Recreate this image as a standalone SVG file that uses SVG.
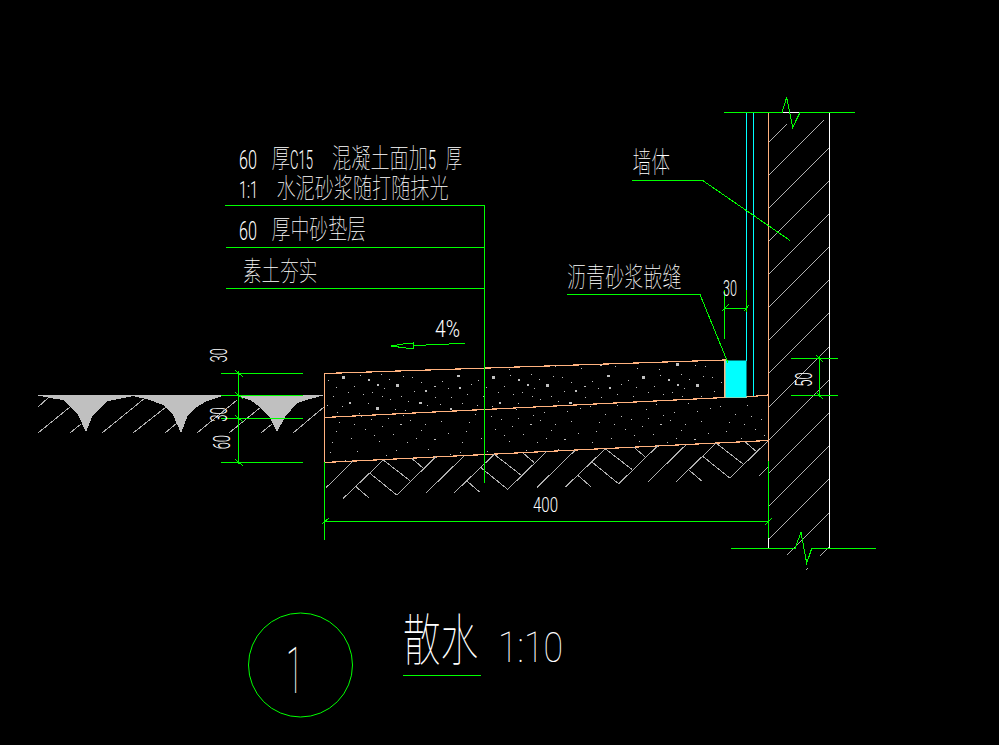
<svg xmlns="http://www.w3.org/2000/svg" xmlns:xlink="http://www.w3.org/1999/xlink" width="999" height="745" viewBox="0 0 999 745">
<style>
.g{stroke:#00ff00;stroke-width:1;fill:none}
.o{stroke:#ffb27f;stroke-width:1.2;fill:none}
.c{stroke:#00ffff;stroke-width:1;fill:none}
.w{stroke:#ffffff;stroke-width:1;fill:none}
.h{stroke:#b0b0b0;stroke-width:1;fill:none}
line,polyline,path,polygon{shape-rendering:crispEdges}
text{fill:#ffffff;font-weight:100}
.z{font-family:"Noto Sans CJK SC","Noto Sans CJK JP",sans-serif;font-size:27px}
.n{font-family:"Roboto","Liberation Sans",sans-serif;font-weight:300}
</style>
<defs>
<pattern id="dots1" width="150" height="44" patternUnits="userSpaceOnUse" patternTransform="translate(324 372)">
<path fill="#c0c0c0" d="M4 8h1v1h-1zM18 4h3v3h-3zM30 14h1v1h-1zM44 7h2v2h-2zM57 2h1v1h-1zM72 12h3v3h-3zM88 5h1v1h-1zM101 18h2v2h-2zM118 9h1v1h-1zM133 3h3v2h-3zM9 24h1v1h-1zM25 30h2v2h-2zM39 22h1v1h-1zM52 35h3v3h-3zM66 27h1v1h-1zM81 38h1v1h-1zM95 30h3v2h-3zM111 25h1v1h-1zM126 36h2v2h-2zM143 22h1v1h-1zM13 40h1v1h-1zM35 41h1v1h-1zM60 16h1v1h-1zM77 24h1v1h-1zM107 40h1v1h-1zM147 12h1v1h-1zM124 16h1v1h-1zM48 20h1v1h-1zM90 19h1v1h-1zM138 31h1v1h-1zM12 15h1v1h-1zM24 20h1v1h-1zM36 3h1v1h-1zM53 12h2v2h-2zM65 7h1v1h-1zM79 4h1v1h-1zM84 29h1v1h-1zM97 10h1v1h-1zM110 14h2v1h-2zM127 25h1v1h-1zM141 38h1v1h-1zM18 34h1v1h-1zM44 31h1v1h-1zM71 37h1v1h-1zM103 33h1v1h-1zM116 32h1v1h-1zM3 33h1v1h-1zM58 24h1v1h-1zM135 15h2v2h-2z"/>
</pattern>
<pattern id="dots2" width="130" height="46" patternUnits="userSpaceOnUse" patternTransform="translate(324 400)">
<path fill="#c0c0c0" d="M6 6h1v1h-1zM21 14h1v1h-1zM33 5h1v1h-1zM47 19h1v1h-1zM62 9h1v1h-1zM76 24h2v1h-2zM90 12h1v1h-1zM104 3h1v1h-1zM117 21h1v1h-1zM12 31h1v1h-1zM27 38h1v1h-1zM41 29h1v1h-1zM55 41h1v1h-1zM69 34h1v1h-1zM83 42h1v1h-1zM97 30h1v1h-1zM110 39h2v1h-2zM124 33h1v1h-1zM15 22h1v1h-1zM37 16h1v1h-1zM58 26h1v1h-1zM86 20h1v1h-1zM126 8h1v1h-1zM72 4h1v1h-1zM8 42h1v1h-1zM30 24h1v1h-1zM50 35h1v1h-1zM79 15h1v1h-1zM101 24h1v1h-1zM113 11h1v1h-1zM92 38h1v1h-1zM64 18h1v1h-1z"/>
</pattern>
<g id="herring" class="h">
<line x1="343.3" y1="498.3" x2="383.3" y2="460"/>
<line x1="356" y1="486.7" x2="368.7" y2="497.7"/>
<line x1="370" y1="473.3" x2="396.7" y2="495"/>
<line x1="383.3" y1="460" x2="410" y2="480.7"/>
<line x1="396.7" y1="495" x2="436" y2="456.7"/>
<line x1="411.7" y1="458.3" x2="423.3" y2="468.3"/>
<line x1="425.7" y1="493.3" x2="464" y2="456"/>
</g>
</defs>
<rect width="999" height="745" fill="#000000"/>

<g id="ground">
<path fill="#c0c0c0" d="M35 395H325L310 399 297 403 285 417 277 432 270 418 260 407 250 400 237 396H222L207 401 197 407 188 415 181 433 173 415 163 405 150 400 133 396 108 401 100 408 92 417 86 432 78 415 70 406 63 400 50 398Z"/>
<g class="h">
<line x1="38" y1="433" x2="70" y2="407"/><line x1="38" y1="407" x2="48" y2="398"/><line x1="70" y1="433" x2="81" y2="424"/>
<line x1="102" y1="433" x2="145" y2="398"/><line x1="133" y1="433" x2="166" y2="407"/><line x1="165" y1="433" x2="177" y2="423"/>
<line x1="197" y1="433" x2="237" y2="400"/><line x1="229" y1="433" x2="261" y2="407"/><line x1="261" y1="433" x2="272" y2="424"/>
<line x1="293" y1="433" x2="324" y2="407"/>
</g>
</g>

<g id="slab">
<polygon points="325,374 725,360 725,398 325,417" fill="url(#dots1)"/>
<polygon points="325,418 725,398 768,395 768,440 325,462" fill="url(#dots2)"/>
<polyline class="o" points="324.5,462.5 324.5,373.5 725,360 725,397.5"/>
<polyline class="o" points="324.5,417.5 725,397.5 746,397 768,395"/>
<polyline class="o" points="324.5,462.5 768,440.5"/>
<rect x="725.5" y="360.5" width="21" height="37" fill="#00ffff"/>
</g>

<g id="soil">
<line class="h" x1="326" y1="487.7" x2="353.3" y2="460.7"/>
<use href="#herring"/>
<use href="#herring" transform="translate(111 -5.6)"/>
<use href="#herring" transform="translate(222 -11.2)"/>
<g class="h">
<line x1="676.3" y1="481.5" x2="716.3" y2="443"/>
<line x1="689" y1="470" x2="701.7" y2="481"/>
<line x1="703" y1="456.5" x2="729.7" y2="478"/>
<line x1="716" y1="443" x2="743" y2="464"/>
<line x1="729.7" y1="478" x2="768" y2="441"/>
<line x1="744.7" y1="441.5" x2="756.3" y2="451.5"/>
<line x1="758.7" y1="476.5" x2="768" y2="467"/>
</g>
</g>

<g id="wall">
<g class="h">
<line x1="769" y1="142" x2="787" y2="124"/>
<line x1="769" y1="175" x2="824" y2="120"/>
<line x1="769" y1="208" x2="829" y2="148"/>
<line x1="769" y1="241" x2="829" y2="181"/>
<line x1="769" y1="274" x2="829" y2="214"/>
<line x1="769" y1="307" x2="829" y2="247"/>
<line x1="769" y1="340" x2="829" y2="280"/>
<line x1="769" y1="373" x2="829" y2="313"/>
<line x1="769" y1="407" x2="829" y2="347"/>
<line x1="769" y1="440" x2="829" y2="380"/>
<line x1="769" y1="473" x2="829" y2="413"/>
<line x1="769" y1="506" x2="829" y2="446"/>
<line x1="769" y1="539" x2="829" y2="479"/>
<line x1="787" y1="555" x2="829" y2="513"/>
<line x1="820" y1="556" x2="829" y2="547"/>
<line x1="806" y1="570" x2="808" y2="568"/>
</g>
<line class="c" x1="746.5" y1="112" x2="746.5" y2="361"/>
<line class="c" x1="753.5" y1="112" x2="753.5" y2="396"/>
<line class="o" x1="768.5" y1="112" x2="768.5" y2="461"/>
<line class="w" x1="829.5" y1="112" x2="829.5" y2="548"/>
<line class="w" x1="768.5" y1="538" x2="768.5" y2="548"/>
<line class="w" x1="782" y1="112.5" x2="800" y2="112.5"/>
</g>

<g id="connectors">
<g class="g">
<polyline points="724,112.5 782,112.5 786.7,97.3 792.7,127.3 800,112.5 855,112.5"/>
<polyline points="731,548.5 795,548.5 801,532.3 806.7,563.3 811.7,548.5 876,548.5"/>
<line x1="768.5" y1="461" x2="768.5" y2="538"/>
<line x1="324.5" y1="462" x2="324.5" y2="540"/>
<line x1="484.5" y1="205" x2="484.5" y2="483"/>
<line x1="225" y1="205.5" x2="484" y2="205.5"/>
<line x1="226" y1="247.5" x2="484" y2="247.5"/>
<line x1="226" y1="288.5" x2="484" y2="288.5"/>
<polyline points="567,294.5 700,294.5 728,363"/>
<polyline points="632,180.5 702.7,180.5 789.7,240.3"/>
<line x1="238.5" y1="371" x2="238.5" y2="464"/>
<line x1="221" y1="373.5" x2="303" y2="373.5"/>
<line x1="221" y1="395.5" x2="303" y2="395.5"/>
<line x1="221" y1="418.5" x2="303" y2="418.5"/>
<line x1="221" y1="462.5" x2="303" y2="462.5"/>
<line x1="235" y1="370" x2="243" y2="377"/>
<line x1="235" y1="392" x2="243" y2="399"/>
<line x1="235" y1="415" x2="243" y2="422"/>
<line x1="235" y1="459" x2="243" y2="466"/>
<line x1="324" y1="521.5" x2="768" y2="521.5"/>
<line x1="322" y1="524" x2="329" y2="518"/>
<line x1="765" y1="525" x2="772" y2="518"/>
<line x1="724.5" y1="290" x2="724.5" y2="339"/>
<line x1="746.5" y1="290" x2="746.5" y2="312"/>
<line x1="724" y1="308.5" x2="746" y2="308.5"/>
<line x1="722" y1="311" x2="729" y2="304"/>
<line x1="744" y1="311" x2="749" y2="305"/>
<line x1="791" y1="358.5" x2="838" y2="358.5"/>
<line x1="791" y1="395.5" x2="838" y2="395.5"/>
<line x1="819.5" y1="356" x2="819.5" y2="397"/>
<line x1="816" y1="355" x2="823" y2="362"/>
<line x1="816" y1="392" x2="823" y2="399"/>
<polyline points="465,343.5 433,344.5 413,346"/>
<polygon points="391,346 406,343.5 413,343 413,348 406,348"/>
<line x1="402.5" y1="675.5" x2="481" y2="675.5"/>
</g>
<circle cx="300.5" cy="665" r="52" class="g"/>
</g>

<g id="labels">
<text class="n" x="239" y="169" font-size="26" textLength="18" lengthAdjust="spacingAndGlyphs">60</text>
<text class="z" x="271.5" y="168" textLength="18.5" lengthAdjust="spacingAndGlyphs">厚</text>
<text class="n" x="290" y="169" font-size="26" textLength="23" lengthAdjust="spacingAndGlyphs">C15</text>
<text class="z" x="332" y="168" textLength="96" lengthAdjust="spacingAndGlyphs">混凝土面加</text>
<text class="n" x="428" y="169" font-size="26" textLength="8" lengthAdjust="spacingAndGlyphs">5</text>
<text class="z" x="445.5" y="168" textLength="16.5" lengthAdjust="spacingAndGlyphs">厚</text>
<text class="n" x="239" y="198" font-size="24" textLength="19" lengthAdjust="spacingAndGlyphs">1:1</text>
<text class="z" x="276.5" y="198" textLength="172" lengthAdjust="spacingAndGlyphs">水泥砂浆随打随抹光</text>
<text class="n" x="239" y="240" font-size="26" textLength="18" lengthAdjust="spacingAndGlyphs">60</text>
<text class="z" x="271.5" y="239" textLength="94.5" lengthAdjust="spacingAndGlyphs">厚中砂垫层</text>
<text class="z" x="243" y="281" textLength="74.5" lengthAdjust="spacingAndGlyphs">素土夯实</text>
<text class="z" x="567" y="287" textLength="114.5" lengthAdjust="spacingAndGlyphs">沥青砂浆嵌缝</text>
<text class="z" x="632.5" y="173" textLength="37.5" lengthAdjust="spacingAndGlyphs" style="font-size:29px">墙体</text>
<text class="n" x="435" y="337" font-size="23" textLength="25" lengthAdjust="spacingAndGlyphs">4%</text>
<text class="n" x="723" y="296" font-size="22" textLength="14" lengthAdjust="spacingAndGlyphs">30</text>
<text class="n" x="533" y="512" font-size="21" textLength="25" lengthAdjust="spacingAndGlyphs">400</text>
<text class="n" transform="translate(227 362.3) rotate(-90)" font-size="23" textLength="14" lengthAdjust="spacingAndGlyphs">30</text>
<text class="n" transform="translate(227 421.7) rotate(-90)" font-size="23" textLength="14.5" lengthAdjust="spacingAndGlyphs">30</text>
<text class="n" transform="translate(230 449.3) rotate(-90)" font-size="23" textLength="14.3" lengthAdjust="spacingAndGlyphs">60</text>
<text class="n" transform="translate(811.7 386.7) rotate(-90)" font-size="23" textLength="14.4" lengthAdjust="spacingAndGlyphs">50</text>
<text class="n" x="286" y="692.7" font-size="64" textLength="17" lengthAdjust="spacingAndGlyphs" style="font-weight:100">1</text>
<text class="z" x="403" y="660" textLength="75" lengthAdjust="spacingAndGlyphs" style="font-size:56px">散水</text>
<text class="n" x="498" y="662" font-size="42" textLength="65" lengthAdjust="spacingAndGlyphs" style="font-weight:100">1:10</text>
</g>
</svg>
